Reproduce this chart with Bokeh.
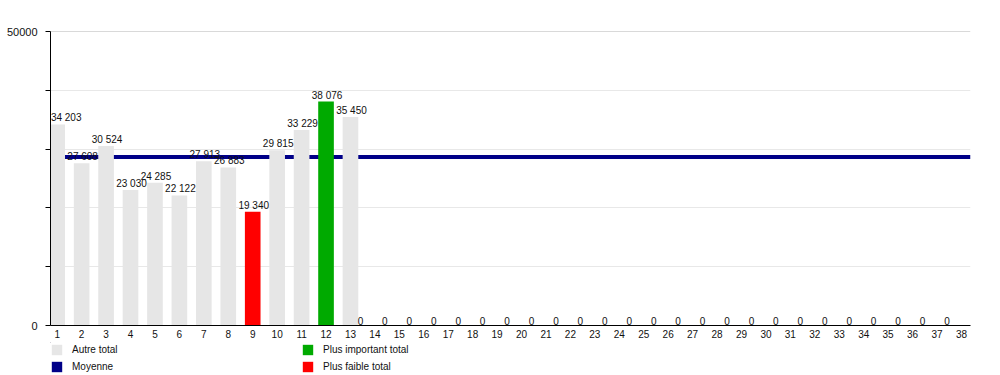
from bokeh.plotting import figure
from bokeh.models import (ColumnDataSource, Range1d, FixedTicker, Legend, LegendItem, Span)
from bokeh.layouts import column
from bokeh.core.properties import value
from bokeh.embed import file_html
from bokeh.resources import INLINE
import numpy as np

# ---- data ----
categories = [str(i) for i in range(1, 39)]
totals = [34203, 27608, 30524, 23030, 24285, 22122, 27913, 26883, 19340, 29815,
          33229, 38076, 35450] + [0] * 25
y_ticks = [0, 10000, 20000, 30000, 40000, 50000]
y_tick_labels = ["0", "", "", "", "", "50000"]
legend_labels = ["Autre total", "Moyenne", "Plus important total", "Plus faible total"]

FONT = "Liberation Sans"
GRAY = "#e6e6e6"
GREEN = "#00aa00"
RED = "#ff0000"
NAVY = "#000088"

vals = np.array(totals, dtype=float)
nonzero = vals[vals > 0]
mean_val = float(nonzero.mean())
vmax = nonzero.max()
vmin = nonzero.min()

xs = list(range(1, len(categories) + 1))
colors = []
for v in totals:
    if v == vmax:
        colors.append(GREEN)
    elif v == vmin and v > 0:
        colors.append(RED)
    else:
        colors.append(GRAY)
labels = [f"{v:,}".replace(",", " ") for v in totals]
xoff = [1 if v > 0 else -14.5 for v in totals]
xoff[0] = 9  # keep the first label inside the plotting frame
i_gray = colors.index(GRAY)
i_green = colors.index(GREEN)
i_red = colors.index(RED)

src = ColumnDataSource(dict(x=xs, top=totals, color=colors, label=labels, xoff=xoff))
proxy_src = ColumnDataSource(dict(x=[0], top=[0]))

# ---------------- main chart ----------------
p = figure(width=1000, height=342, output_backend="svg", toolbar_location=None,
           x_range=Range1d(0.726, 38.37), y_range=Range1d(0, 50000),
           min_border_left=50, min_border_right=30, min_border_top=31, min_border_bottom=17)
p.outline_line_color = None
p.background_fill_color = "white"
p.border_fill_color = "white"
p.xgrid.grid_line_color = None
p.ygrid.grid_line_color = "#e8e8e8"
p.ygrid.grid_line_width = 1

top_line = Span(location=50000, dimension="width", line_color="#b4b4b4", line_width=1, level="underlay")
p.add_layout(top_line)

# mean line beneath the bars
mean_line = Span(location=mean_val, dimension="width", line_color=NAVY, line_width=4, level="underlay")
p.add_layout(mean_line)

p.vbar(x="x", top="top", width=0.64, source=src, fill_color="color", line_color=None)

p.text(x="x", y="top", text="label", source=src, x_offset="xoff", y_offset=-1,
       text_align="center", text_baseline="bottom",
       text_font=value(FONT), text_font_size="10px", text_color="#111111")

p.xaxis.ticker = FixedTicker(ticks=xs)
p.xaxis.major_label_overrides = {x: c for x, c in zip(xs, categories)}
p.xaxis.axis_line_color = "black"
p.xaxis.major_tick_out = 0
p.xaxis.major_tick_in = 0
p.xaxis.minor_tick_line_color = None
p.xaxis.major_label_standoff = 4
p.xaxis.major_label_text_font = FONT
p.xaxis.major_label_text_font_size = "10px"
p.xaxis.major_label_text_color = "#111111"

p.yaxis.ticker = FixedTicker(ticks=y_ticks)
p.yaxis.major_label_overrides = {t: l for t, l in zip(y_ticks, y_tick_labels)}
p.yaxis.axis_line_color = "black"
p.yaxis.major_tick_out = 5
p.yaxis.major_tick_in = 0
p.yaxis.minor_tick_line_color = None
p.yaxis.major_label_standoff = 8
p.yaxis.major_label_text_font = FONT
p.yaxis.major_label_text_font_size = "11px"
p.yaxis.major_label_text_color = "#111111"

# ---------------- legend strip ----------------
lg = figure(width=1000, height=33, output_backend="svg", toolbar_location=None,
            x_range=Range1d(100, 101), y_range=Range1d(-2, -1),
            x_axis_type=None, y_axis_type=None,
            min_border=0, min_border_left=0, min_border_right=0,
            min_border_top=0, min_border_bottom=0)
lg.outline_line_color = None
lg.grid.grid_line_color = None
lg.background_fill_color = "white"
lg.border_fill_color = "white"
# swatch carriers (outside the visible range, only used for legend swatches)
bars_proxy = lg.vbar(x="x", top="top", width=0.64, source=src, fill_color="color", line_color=None)
navy_proxy = lg.vbar(x="x", top="top", width=0.5, source=proxy_src, fill_color=NAVY, line_color=None)

legend = Legend(items=[LegendItem(label=legend_labels[0], renderers=[bars_proxy], index=i_gray),
                       LegendItem(label=legend_labels[2], renderers=[bars_proxy], index=i_green),
                       LegendItem(label=legend_labels[1], renderers=[navy_proxy], index=0),
                       LegendItem(label=legend_labels[3], renderers=[bars_proxy], index=i_red)],
                orientation="horizontal", ncols=2,
                glyph_width=13, glyph_height=13, label_height=13, label_width=225,
                label_standoff=9, spacing=4, padding=0, margin=0,
                border_line_color=None, background_fill_alpha=0,
                label_text_font=FONT, label_text_font_size="10px", label_text_color="#111111",
                location=(0, 2))
lg.add_layout(legend)

layout = column(p, lg, spacing=0)
open("out.html", "w").write(file_html(layout, INLINE))
